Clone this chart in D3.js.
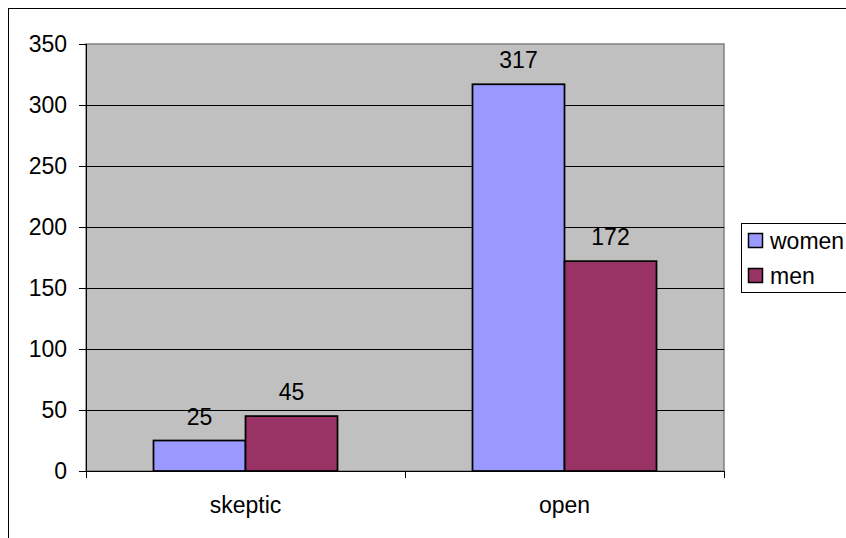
<!DOCTYPE html>
<html>
<head>
<meta charset="utf-8">
<script src="https://cdn.jsdelivr.net/npm/d3@7"></script>
<style>
  html, body { margin: 0; padding: 0; background: #fff; }
  svg { display: block; font-family: "Liberation Sans", Arial, sans-serif; }
</style>
</head>
<body>
<svg id="chart" width="846" height="538"></svg>
<script>
// Survey counts by attitude, split by gender
const categories = ["skeptic", "open"];
const seriesNames = ["women", "men"];
const women = [25, 317];
const men = [45, 172];
const yTicks = [0, 50, 100, 150, 200, 250, 300, 350];
const colors = ["#9999FF", "#993366"];

const seriesValues = [women, men];
const FONT = 23;
const svg = d3.select("#chart");

// Outer chart frame
svg.append("rect")
  .attr("x", 8.5).attr("y", 8.5)
  .attr("width", 850).attr("height", 540)
  .attr("fill", "#fff").attr("stroke", "#000").attr("stroke-width", 1);

const plot = { left: 86, top: 44, right: 724, bottom: 471 };

const x = d3.scaleBand().domain(categories).range([plot.left, plot.right]).paddingInner(0).paddingOuter(0);
const xSeries = d3.scaleBand().domain(seriesNames).range([0, x.bandwidth()]).paddingInner(0).paddingOuter(0.7335);
const y = d3.scaleLinear().domain([0, 350]).range([plot.bottom, plot.top]);

// Plot background
svg.append("rect")
  .attr("x", plot.left).attr("y", plot.top)
  .attr("width", plot.right - plot.left).attr("height", plot.bottom - plot.top)
  .attr("fill", "#C0C0C0").attr("stroke", "#808080").attr("stroke-width", 1.5);

// Gridlines
svg.append("g").selectAll("line")
  .data(yTicks.filter(t => t > 0 && t < 350))
  .join("line")
  .attr("x1", plot.left).attr("x2", plot.right)
  .attr("y1", d => Math.round(y(d)) + 0.5).attr("y2", d => Math.round(y(d)) + 0.5)
  .attr("stroke", "#000").attr("stroke-width", 1);

// Bars
const groups = svg.append("g").selectAll("g")
  .data(categories)
  .join("g")
  .attr("transform", d => `translate(${x(d)},0)`);

const cells = (c, i) => seriesNames.map((s, k) => ({ s, k, v: seriesValues[k][i] }));

groups.selectAll("rect")
  .data(cells)
  .join("rect")
  .attr("x", d => xSeries(d.s))
  .attr("y", d => y(d.v))
  .attr("width", xSeries.bandwidth())
  .attr("height", d => y(0) - y(d.v))
  .attr("fill", d => colors[d.k])
  .attr("stroke", "#000").attr("stroke-width", 1.75);

groups.selectAll("text")
  .data(cells)
  .join("text")
  .attr("x", d => xSeries(d.s) + xSeries.bandwidth() / 2)
  .attr("y", d => y(d.v) - 16)
  .attr("text-anchor", "middle")
  .attr("font-size", FONT)
  .attr("fill", "#000")
  .text(d => d.v);

// Y axis
const yAxis = svg.append("g")
  .attr("transform", `translate(${plot.left},0)`)
  .call(d3.axisLeft(y).tickValues(yTicks).tickSize(7).tickPadding(12).tickFormat(d3.format("d")));
yAxis.selectAll("text").attr("font-size", FONT).attr("fill", "#000").attr("font-family", "Liberation Sans, Arial, sans-serif");
yAxis.selectAll("line").attr("stroke", "#000");
yAxis.select(".domain").attr("stroke", "#000").attr("d", `M0.5,${plot.top}V${plot.bottom}`);

// X axis
const xAxis = svg.append("g")
  .attr("transform", `translate(0,${plot.bottom})`)
  .call(d3.axisBottom(x).tickSize(0).tickPadding(26));
xAxis.selectAll("text").attr("font-size", FONT).attr("fill", "#000").attr("font-family", "Liberation Sans, Arial, sans-serif");
xAxis.select(".domain").attr("stroke", "#000").attr("d", `M${plot.left},0.5H${plot.right}`);
xAxis.append("g").selectAll("line")
  .data([plot.left, plot.left + x.bandwidth(), plot.right])
  .join("line")
  .attr("x1", d => Math.round(d) + 0.5).attr("x2", d => Math.round(d) + 0.5)
  .attr("y1", 0).attr("y2", 7)
  .attr("stroke", "#000");

// Legend
const legend = svg.append("g");
legend.append("rect")
  .attr("x", 741.5).attr("y", 223.5)
  .attr("width", 120).attr("height", 69)
  .attr("fill", "#fff").attr("stroke", "#000").attr("stroke-width", 1);
const items = legend.selectAll("g.item")
  .data(seriesNames)
  .join("g")
  .attr("class", "item")
  .attr("transform", (d, i) => `translate(748,${233 + i * 35})`);
items.append("rect")
  .attr("x", 0.5).attr("y", 0.5)
  .attr("width", 14).attr("height", 14)
  .attr("fill", (d, i) => colors[i])
  .attr("stroke", "#000").attr("stroke-width", 1.5);
items.append("text")
  .attr("x", 22).attr("y", 16)
  .attr("font-size", FONT)
  .attr("fill", "#000")
  .text(d => d);
</script>
</body>
</html>
